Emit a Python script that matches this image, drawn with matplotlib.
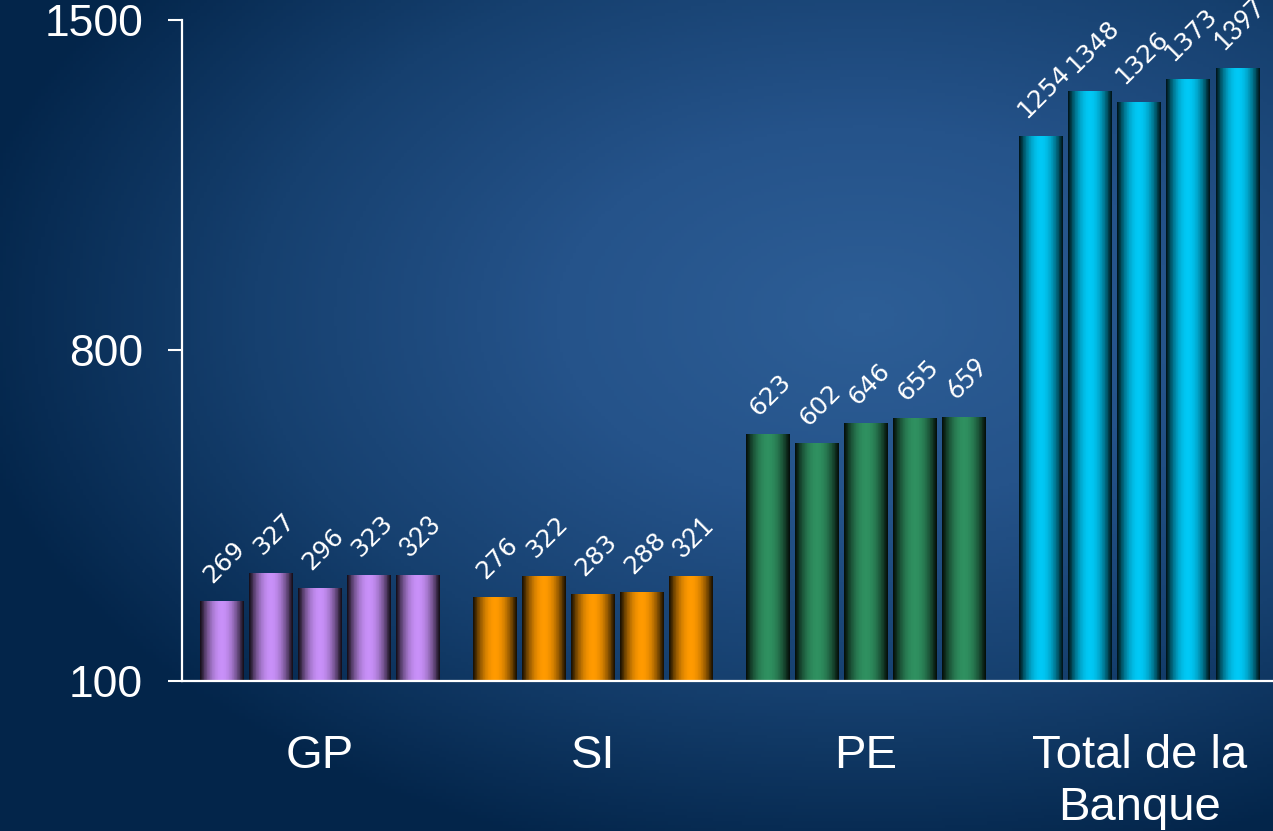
import matplotlib.pyplot as plt
import numpy as np
from matplotlib.colors import LinearSegmentedColormap

# données
categories = ["GP", "SI", "PE", "Total de la\nBanque"]
gp = [269, 327, 296, 323, 323]
si = [276, 322, 283, 288, 321]
pe = [623, 602, 646, 655, 659]
total = [1254, 1348, 1326, 1373, 1397]
series = [gp, si, pe, total]
bar_colors = ["#c890f8", "#ff9a00", "#2f9060", "#00c8f5"]
y_ticks = [100, 800, 1500]

W, H = 12.73, 8.31
fig = plt.figure(figsize=(W, H), dpi=100)

# fond en dégradé radial
bg = fig.add_axes([0, 0, 1, 1])
bg.set_axis_off()
gx, gy = np.meshgrid(np.linspace(0, 1, 400), np.linspace(0, 1, 260))
d = np.sqrt(((gx - 0.68) / 0.72) ** 2 + ((gy - 0.62) / 0.68) ** 2)
d = np.clip(d, 0, 1)
bg_cmap = LinearSegmentedColormap.from_list("bg", ["#2d5e96", "#25538a", "#16406f", "#03254a"])
bg.imshow(d, cmap=bg_cmap, extent=(0, 1, 0, 1), aspect="auto", origin="lower")

ax = fig.add_axes([0.143, 0.1805, 0.857, 0.7955])
ax.patch.set_alpha(0)

width = 0.161
step = 0.18
offsets = (np.arange(5) - 2) * step

# profil cylindrique des barres
prof_x = np.linspace(0, 1, 60)
profile = 0.12 + 0.88 * np.clip(np.cos((prof_x - 0.5) * np.pi * 1.05), 0, 1) ** 0.8

for i, vals in enumerate(series):
    cmap = LinearSegmentedColormap.from_list("c%d" % i, ["#000000", bar_colors[i]])
    for j, v in enumerate(vals):
        xc = i + offsets[j]
        x0 = xc - width / 2
        ax.bar(xc, v - 100, width=width, bottom=100, color=bar_colors[i], zorder=2)
        ax.imshow(profile[np.newaxis, :], cmap=cmap, vmin=0, vmax=1, aspect="auto",
                  extent=(x0, x0 + width, 100, v), zorder=3, interpolation="nearest")
        if j == 4:
            fam, fs = ["Lato", "DejaVu Sans"], 19
        else:
            fam, fs = ["DejaVu Sans"], 18
        ax.annotate(str(v), xy=(xc, v), xytext=(2, 10), textcoords="offset points",
                    rotation=45, ha="center", va="bottom",
                    color="white", fontsize=fs, family=fam, zorder=4, annotation_clip=False)

ax.set_xlim(-0.505, 3.49)
ax.set_ylim(100, 1500)
ax.set_yticks(y_ticks)
ax.set_yticklabels([str(t) for t in y_ticks], fontsize=32, color="white", family="Liberation Sans")
ax.set_xticks(range(len(categories)))
ax.set_xticklabels(categories, fontsize=34, color="white", family="Liberation Sans", linespacing=1.25)
ax.tick_params(axis="y", length=10, width=1.5, color="white", pad=18, direction="out")
ax.tick_params(axis="x", length=0, pad=38)
for s in ["top", "right"]:
    ax.spines[s].set_visible(False)
for s in ["left", "bottom"]:
    ax.spines[s].set_color("white")
    ax.spines[s].set_linewidth(1.6)
    ax.spines[s].set_zorder(5)

fig.savefig("out.png", dpi=100)
